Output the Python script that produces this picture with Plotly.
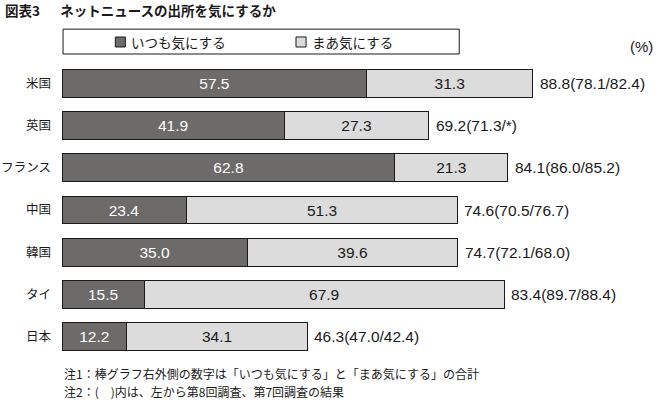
import plotly.graph_objects as go

# --- Data ---
countries = ["米国", "英国", "フランス", "中国", "韓国", "タイ", "日本"]
always = [57.5, 41.9, 62.8, 23.4, 35.0, 15.5, 12.2]
somewhat = [31.3, 27.3, 21.3, 51.3, 39.6, 67.9, 34.1]
totals = [88.8, 69.2, 84.1, 74.6, 74.7, 83.4, 46.3]
previous = ["78.1/82.4", "71.3/*", "86.0/85.2", "70.5/76.7", "72.1/68.0", "89.7/88.4", "47.0/42.4"]
series_names = ["いつも気にする", "まあ気にする"]
notes = ["注1：棒グラフ右外側の数字は「いつも気にする」と「まあ気にする」の合計",
         "注2：(　)内は、左から第8回調査、第7回調査の結果"]

DARK = "#6d6a6a"
LIGHT = "#dcdcdc"
INK = "#1a1a1a"
NUM = "Liberation Sans, Noto Sans CJK JP, sans-serif"
JP = "Noto Sans CJK JP, sans-serif"

fig = go.Figure()
for vals, name, fill, tcol in [(always, series_names[0], DARK, "white"),
                               (somewhat, series_names[1], LIGHT, INK)]:
    fig.add_trace(go.Bar(
        y=countries, x=vals, orientation="h", name=name,
        marker=dict(color=fill, line=dict(color=INK, width=1)),
        texttemplate="%{x:.1f}", textposition="inside", insidetextanchor="middle",
        textfont=dict(color=tcol, size=15.5, family=NUM), width=0.66,
    ))

# totals to the right of each bar
for c, t, p in zip(countries, totals, previous):
    fig.add_annotation(x=t, y=c, text=f"{t:.1f}({p})", showarrow=False,
                       xanchor="left", xshift=5, font=dict(size=15.5, color=INK, family=NUM))

# hand-drawn legend box (paper coords)
fig.add_shape(type="rect", xref="paper", yref="paper", x0=0.002, x1=0.7495, y0=1.027, y1=1.111,
              line=dict(color=INK, width=1), fillcolor="white")
for x0, fill, name in [(0.1006, DARK, series_names[0]), (0.4415, LIGHT, series_names[1])]:
    fig.add_shape(type="rect", xref="paper", yref="paper", x0=x0, x1=x0 + 0.019,
                  y0=1.0507, y1=1.0845, line=dict(color=INK, width=1), fillcolor=fill)
    fig.add_annotation(xref="paper", yref="paper", x=x0 + 0.026, y=1.0676, text=name,
                       showarrow=False, xanchor="left", yanchor="middle",
                       font=dict(size=13.5, color=INK, family=JP))

fig.add_annotation(xref="paper", yref="paper", x=1.118, y=1.051, text="(%)", showarrow=False,
                   xanchor="right", yanchor="middle", font=dict(size=15, color=INK, family=NUM))

# title and notes
fig.add_annotation(xref="paper", yref="paper", x=-0.111, y=1.176,
                   text="<b>図表3\u2002　ネットニュースの出所を気にするか</b>",
                   showarrow=False, xanchor="left", yanchor="middle",
                   font=dict(size=13.5, color=INK, family=JP))
for yy, note in zip([-0.054, -0.1115], notes):
    fig.add_annotation(xref="paper", yref="paper", x=0.0, y=yy, text=note,
                       showarrow=False, xanchor="left", yanchor="middle",
                       font=dict(size=12, color=INK, family=JP))

fig.update_layout(
    barmode="stack", width=658, height=401,
    margin=dict(l=62, r=66, t=62, b=43, autoexpand=False),
    plot_bgcolor="white", paper_bgcolor="white",
    font=dict(family=JP, color=INK, size=12),
    showlegend=False,
    xaxis=dict(range=[0, 100], visible=False, fixedrange=True),
    yaxis=dict(autorange="reversed", showgrid=False, showline=False, ticks="",
               automargin=False, ticklabelstandoff=10,
               tickfont=dict(size=12.5, family=JP, color=INK)),
)

# drop the browser's default page margin so the figure sits at the window's corner
fig.write_html("out.html", config={"displayModeBar": False},
               post_script="document.body.style.margin='0';")
